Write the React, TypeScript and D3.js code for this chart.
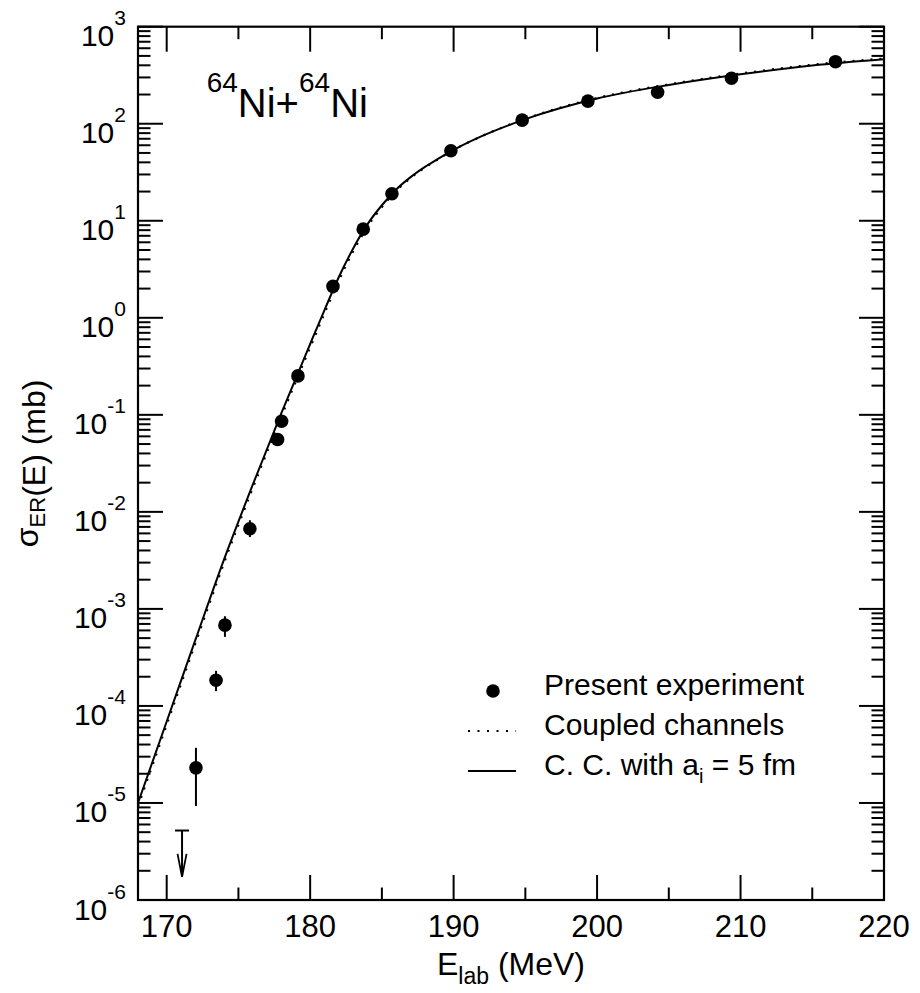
import React from "react";
import * as d3 from "d3";

// ---------- data ----------
const expE = [172.04, 173.44, 174.06, 175.8, 177.73, 178.01, 179.15, 181.59, 183.7, 185.7, 189.81, 194.78, 199.36, 204.22, 209.37, 216.62];
const expSigma = [2.3e-5, 1.84e-4, 6.8e-4, 6.7e-3, 0.0557, 0.086, 0.252, 2.11, 8.2, 19, 52.7, 109, 171, 211, 294, 436];
const expLo = [9.3e-6, 1.42e-4, 5.15e-4, 5.5e-3, 0.052, 0.081, 0.24, 2.0, 7.8, 18, 50, 104, 163, 201, 280, 415];
const expHi = [3.7e-5, 2.3e-4, 8.4e-4, 8.2e-3, 0.06, 0.091, 0.265, 2.22, 8.6, 20, 55.4, 114, 179, 221, 308, 457];

const ulE = [171.07];
const ulSigma = [5.2e-6];
const ulTip = [1.73e-6];

const ccE = [168, 170, 172, 174, 176, 178, 180, 181, 182, 183, 184, 185, 186, 187, 188, 189, 190, 192, 195, 200, 205, 210, 215, 220];
const solidLog = [-5.0, -4.16, -3.32, -2.49, -1.72, -0.98, -0.27, 0.08, 0.42, 0.715, 0.965, 1.16, 1.323, 1.45, 1.555, 1.645, 1.73, 1.874, 2.047, 2.26, 2.4, 2.51, 2.6, 2.664];
const dottedLog = [-5.035, -4.195, -3.355, -2.525, -1.755, -1.015, -0.305, 0.045, 0.385, 0.685, 0.94, 1.14, 1.308, 1.44, 1.549, 1.642, 1.73, 1.874, 2.05, 2.265, 2.406, 2.517, 2.608, 2.672];

const xMajorTicks = [170, 180, 190, 200, 210, 220];
const xMinorTicks = [175, 185, 195, 205, 215];
const yExps = [-6, -5, -4, -3, -2, -1, 0, 1, 2, 3];

const legendLabels = ["Present experiment", "Coupled channels", "C. C. with a"];

// ---------- layout ----------
const W = 920, H = 993;
const L = 138, R = 884, T = 26.7, B = 900;
const FONT = "'Liberation Sans', Arial, Helvetica, sans-serif";

export default function App() {
  const x = d3.scaleLinear().domain([168, 220]).range([L, R]);
  const y = d3.scaleLog().domain([1e-6, 1e3]).range([B, T]);

  const line = d3
    .line<[number, number]>()
    .x((d) => x(d[0]))
    .y((d) => y(Math.pow(10, d[1])))
    .curve(d3.curveMonotoneX);

  const solidPath = line(ccE.map((e, i) => [e, solidLog[i]]) as [number, number][]) || "";
  const dottedPath = line(ccE.map((e, i) => [e, dottedLog[i]]) as [number, number][]) || "";

  const minorY: number[] = [];
  for (let k = -6; k < 3; k++) {
    for (let m = 2; m <= 9; m++) minorY.push(m * Math.pow(10, k));
  }

  const majLen = 25, minLen = 12.5;

  return (
    <svg width={W} height={H} style={{ position: "absolute", left: 0, top: 0, background: "#fff" }} fontFamily={FONT}>
      <defs>
        <clipPath id="plotclip">
          <rect x={L} y={T} width={R - L} height={B - T} />
        </clipPath>
      </defs>

      {/* curves */}
      <g clipPath="url(#plotclip)" fill="none" stroke="#000">
        <path d={dottedPath} strokeWidth={2.2} strokeDasharray="2,7" />
        <path d={solidPath} strokeWidth={2} />
      </g>

      {/* error bars */}
      <g stroke="#000" strokeWidth={2}>
        {expE.map((e, i) => (
          <line key={i} x1={x(e)} x2={x(e)} y1={y(expLo[i])} y2={y(expHi[i])} />
        ))}
      </g>

      {/* points */}
      <g fill="#000">
        {expE.map((e, i) => (
          <circle key={i} cx={x(e)} cy={y(expSigma[i])} r={6.8} />
        ))}
      </g>

      {/* upper limit */}
      <g stroke="#000" strokeWidth={2} fill="none">
        {ulE.map((e, i) => {
          const cx = x(e);
          const y0 = y(ulSigma[i]);
          const y1 = y(ulTip[i]);
          return (
            <g key={i}>
              <line x1={cx - 7} x2={cx + 7} y1={y0} y2={y0} />
              <line x1={cx} x2={cx} y1={y0} y2={y1} />
              <polyline points={`${cx - 4.5},${y1 - 23} ${cx},${y1} ${cx + 4.5},${y1 - 23}`} strokeWidth={1.8} />
            </g>
          );
        })}
      </g>

      {/* frame */}
      <rect x={L} y={T} width={R - L} height={B - T} fill="none" stroke="#000" strokeWidth={2.2} />

      {/* ticks */}
      <g stroke="#000" strokeWidth={2}>
        {xMajorTicks.map((t) => (
          <g key={"M" + t}>
            <line x1={x(t)} x2={x(t)} y1={B} y2={B - majLen} />
            <line x1={x(t)} x2={x(t)} y1={T} y2={T + majLen} />
          </g>
        ))}
        {xMinorTicks.map((t) => (
          <g key={"m" + t}>
            <line x1={x(t)} x2={x(t)} y1={B} y2={B - minLen} />
            <line x1={x(t)} x2={x(t)} y1={T} y2={T + minLen} />
          </g>
        ))}
        {yExps.map((k) => (
          <g key={"yM" + k}>
            <line x1={L} x2={L + majLen} y1={y(Math.pow(10, k))} y2={y(Math.pow(10, k))} />
            <line x1={R} x2={R - majLen} y1={y(Math.pow(10, k))} y2={y(Math.pow(10, k))} />
          </g>
        ))}
        {minorY.map((v, i) => (
          <g key={"ym" + i}>
            <line x1={L} x2={L + minLen} y1={y(v)} y2={y(v)} />
            <line x1={R} x2={R - minLen} y1={y(v)} y2={y(v)} />
          </g>
        ))}
      </g>

      {/* x tick labels */}
      <g fontSize={31} textAnchor="middle" fill="#000">
        {xMajorTicks.map((t) => (
          <text key={t} x={x(t)} y={B + 37}>
            {t}
          </text>
        ))}
      </g>

      {/* y tick labels */}
      <g fill="#000" textAnchor="end">
        {yExps.map((k) => (
          <text key={k} x={126} y={y(Math.pow(10, k)) + 19.5} fontSize={30}>
            10
            <tspan fontSize={21} dy={-21}>
              {k < 0 ? "-" + Math.abs(k) : String(k)}
            </tspan>
          </text>
        ))}
      </g>

      {/* x title */}
      <text x={(L + R) / 2} y={975} textAnchor="middle" fontSize={32} fill="#000">
        E
        <tspan fontSize={23} dy={9}>lab</tspan>
        <tspan dy={-9}> (MeV)</tspan>
      </text>

      {/* y title */}
      <text transform={`translate(45, ${(T + B) / 2}) rotate(-90)`} textAnchor="middle" fontSize={32} fill="#000">
        <tspan dy={-7}>σ</tspan>
        <tspan fontSize={22} dy={7}>ER</tspan>
        <tspan>(E) (mb)</tspan>
      </text>

      {/* annotation */}
      <text x={206.7} y={116.7} fontSize={40} fill="#000">
        <tspan fontSize={28} dy={-25}>64</tspan>
        <tspan dy={25}>Ni+</tspan>
        <tspan fontSize={28} dy={-25}>64</tspan>
        <tspan dy={25}>Ni</tspan>
      </text>

      {/* legend */}
      <g fill="#000" fontSize={30}>
        <circle cx={493} cy={691} r={6.8} />
        <line x1={468} x2={516} y1={731} y2={731} stroke="#000" strokeWidth={2.2} strokeDasharray="2,7.5" />
        <line x1={468} x2={516} y1={771} y2={771} stroke="#000" strokeWidth={2} />
        <text x={544} y={695}>{legendLabels[0]}</text>
        <text x={544} y={735}>{legendLabels[1]}</text>
        <text x={544} y={775}>
          {legendLabels[2]}
          <tspan fontSize={20} dy={8}>i</tspan>
          <tspan dy={-8}> = 5 fm</tspan>
        </text>
      </g>
    </svg>
  );
}
